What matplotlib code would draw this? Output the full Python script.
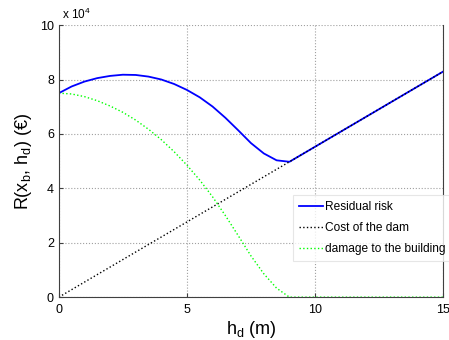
import numpy as np
import matplotlib.pyplot as plt
from matplotlib.ticker import FuncFormatter

plt.rcParams['font.family'] = ['Liberation Sans', 'DejaVu Sans']
plt.rcParams['mathtext.default'] = 'regular'

# heights of the dam (m)
h_d = [0, 0.5, 1, 1.5, 2, 2.5, 3, 3.5, 4, 4.5, 5, 5.5, 6, 6.5, 7, 7.5, 8, 8.5, 9,
       10, 11, 12, 13, 14, 15]

# cost of the dam (EUR)
cost = [0, 2760, 5530, 8300, 11060, 13830, 16590, 19360, 22120, 24890, 27650,
        30420, 33180, 35950, 38710, 41480, 44240, 47010, 49770,
        55300, 60830, 66360, 71890, 77420, 82950]

# damage to the building (EUR)
damage = [75000, 74700, 73730, 72230, 70280, 67950, 65100, 61730, 57900, 53480,
          48530, 43050, 36900, 30000, 22650, 15150, 8600, 3300, 0,
          0, 0, 0, 0, 0, 0]

# residual risk (EUR)
residual = [75000, 77460, 79260, 80530, 81340, 81780, 81690, 81090, 80020, 78370,
            76180, 73470, 70080, 65950, 61360, 56630, 52840, 50310, 49770,
            55300, 60830, 66360, 71890, 77420, 82950]

fig = plt.figure(figsize=(4.49, 3.40), dpi=100)
ax = fig.add_axes([0.131, 0.126, 0.856, 0.80])

l1, = ax.plot(h_d, residual, color='#0000ff', lw=1.3, label='Residual risk')
l2, = ax.plot(h_d, cost, color='k', lw=1.0, ls=':', label='Cost of the dam')
l3, = ax.plot(h_d, damage, color='#00ff00', lw=1.0, ls=':', label='damage to the building')

ax.set_xlim(0, 15)
ax.set_ylim(0, 100000)
ax.set_xticks([0, 5, 10, 15])
ax.set_yticks(np.arange(0, 100001, 20000))
ax.yaxis.set_major_formatter(FuncFormatter(lambda v, p: '%g' % (v / 1e4)))
ax.text(0.0, 1.012, ' x 10$^4$', transform=ax.transAxes, fontsize=8.5,
        ha='left', va='bottom')

ax.grid(True, ls=':', color='#a0a0a0', lw=0.8)
ax.tick_params(direction='in', labelsize=9, length=3, color='#404040')
ax.tick_params(axis='x', pad=5)
ax.spines['top'].set_visible(False)
for s in ['left', 'right', 'bottom']:
    ax.spines[s].set_color('#404040')
    ax.spines[s].set_linewidth(0.8)

ax.set_xlabel('h$_d$ (m)', fontsize=13, labelpad=2)
ax.set_ylabel('R(x$_b$, h$_d$) (€)', fontsize=13, labelpad=4)

leg = fig.legend(handles=[l1, l2, l3], loc='upper left',
                 bbox_to_anchor=(0.652, 0.427), fontsize=8.6, frameon=True,
                 fancybox=False, handlelength=2.0, handletextpad=0.2,
                 borderpad=0.5, labelspacing=0.75, borderaxespad=0)
leg.get_frame().set_edgecolor('#e0e0e0')
leg.get_frame().set_linewidth(0.8)

fig.savefig('out.png', dpi=100)
